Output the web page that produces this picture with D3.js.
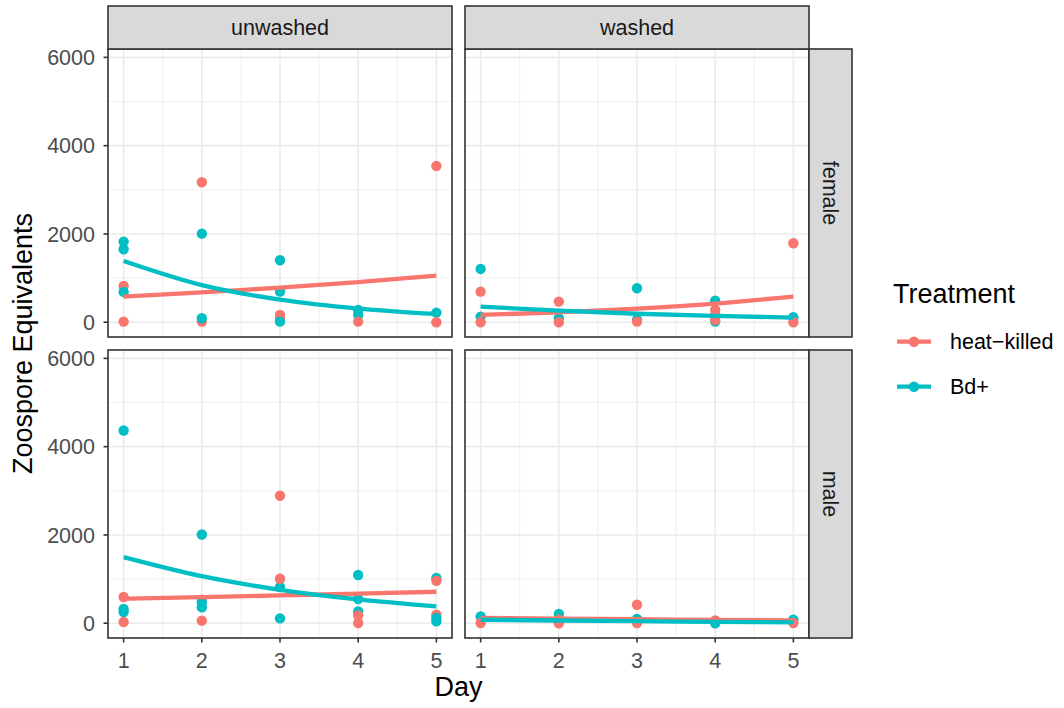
<!DOCTYPE html>
<html>
<head>
<meta charset="utf-8">
<script src="https://cdn.jsdelivr.net/npm/d3@7"></script>
<style>
  html, body { margin: 0; padding: 0; background: #fff; }
  svg { display: block; font-family: "Liberation Sans", Arial, Helvetica, sans-serif; }
</style>
</head>
<body>
<svg id="chart" width="1064" height="708"></svg>
<script>
// Facet levels and legend labels
const washLevels = ["unwashed", "washed"];
const sexLevels = ["female", "male"];
const treatments = ["heat\u2212killed", "Bd+"];
const treatmentColors = ["#F8766D", "#00BFC4"];
const dayTicks = [1, 2, 3, 4, 5];
const yTicks = [0, 2000, 4000, 6000];

// Observations: [day, zoospore equivalents, treatment index]
const ptsUnwashedFemale = [
  [1, 14, 0], [1, 822, 0], [1, 1826, 1], [1, 1653, 1], [1, 686, 1],
  [2, 3171, 0], [2, 14, 0], [2, 2007, 1], [2, 90, 1],
  [3, 165, 0], [3, 90, 0], [3, 1404, 1], [3, 693, 1], [3, 14, 1],
  [4, 279, 1], [4, 165, 1], [4, 14, 0],
  [5, 3540, 0], [5, 218, 1], [5, 0, 0]
];
const ptsWashedFemale = [
  [1, 1207, 1], [1, 693, 0], [1, 127, 1], [1, 0, 0],
  [2, 467, 0], [2, 90, 1], [2, 0, 0],
  [3, 770, 1], [3, 60, 1], [3, 14, 0],
  [4, 489, 1], [4, 14, 1], [4, 279, 0], [4, 165, 0], [4, 50, 0],
  [5, 1789, 0], [5, 113, 1], [5, 0, 0]
];
const ptsUnwashedMale = [
  [1, 4367, 1], [1, 593, 0], [1, 321, 1], [1, 254, 1], [1, 27, 0],
  [2, 2011, 1], [2, 532, 0], [2, 471, 1], [2, 358, 1], [2, 57, 0],
  [3, 2888, 0], [3, 820, 1], [3, 1008, 0], [3, 109, 1],
  [4, 1092, 1], [4, 548, 1], [4, 267, 1], [4, 177, 0], [4, 5, 0],
  [5, 1024, 1], [5, 962, 0], [5, 192, 0], [5, 117, 1], [5, 41, 1]
];
const ptsWashedMale = [
  [1, 154, 1], [1, 5, 0],
  [2, 208, 1], [2, 79, 0], [2, 0, 0],
  [3, 419, 0], [3, 95, 1], [3, 5, 0],
  [4, 63, 0], [4, 0, 1],
  [5, 79, 1], [5, 5, 0]
];

// Fitted trend per treatment, evaluated at days 1..5
const fitHeatUnwashedFemale = [580, 674, 783, 910, 1056];
const fitBdUnwashedFemale = [1388, 842, 511, 310, 188];
const fitHeatWashedFemale = [165, 225, 309, 423, 580];
const fitBdWashedFemale = [353, 261, 192, 142, 104];
const fitHeatUnwashedMale = [555, 591, 630, 670, 713];
const fitBdUnwashedMale = [1499, 1066, 757, 538, 381];
const fitHeatWashedMale = [118, 104, 90, 76, 63];
const fitBdWashedMale = [79, 62, 46, 31, 18];

const panels = [
  { wash: 0, sex: 0, pts: ptsUnwashedFemale, fits: [fitHeatUnwashedFemale, fitBdUnwashedFemale] },
  { wash: 1, sex: 0, pts: ptsWashedFemale, fits: [fitHeatWashedFemale, fitBdWashedFemale] },
  { wash: 0, sex: 1, pts: ptsUnwashedMale, fits: [fitHeatUnwashedMale, fitBdUnwashedMale] },
  { wash: 1, sex: 1, pts: ptsWashedMale, fits: [fitHeatWashedMale, fitBdWashedMale] }
];

// Layout
const panelW = 344, panelH = 288;
const colX = [108, 465];
const rowY = [49, 350];
const stripSize = 43;
const border = "#333333";
const gridCol = "#EBEBEB";

const svg = d3.select("#chart");

const x = d3.scaleLinear().domain([0.8, 5.2]).range([0, panelW]);
const y = d3.scaleLinear().domain([-335, 6190]).range([panelH, 0]);

const xMinor = [1.5, 2.5, 3.5, 4.5];
const yMinor = [1000, 3000, 5000];

panels.forEach(p => {
  const g = svg.append("g")
    .attr("transform", `translate(${colX[p.wash]},${rowY[p.sex]})`);

  // panel background and grid
  g.append("rect").attr("width", panelW).attr("height", panelH).attr("fill", "#fff");
  g.selectAll(".ymin").data(yMinor).join("line")
    .attr("x1", 0).attr("x2", panelW)
    .attr("y1", d => y(d)).attr("y2", d => y(d))
    .attr("stroke", gridCol).attr("stroke-width", 0.8);
  g.selectAll(".xmin").data(xMinor).join("line")
    .attr("y1", 0).attr("y2", panelH)
    .attr("x1", d => x(d)).attr("x2", d => x(d))
    .attr("stroke", gridCol).attr("stroke-width", 0.8);
  g.selectAll(".ymaj").data(yTicks).join("line")
    .attr("x1", 0).attr("x2", panelW)
    .attr("y1", d => y(d)).attr("y2", d => y(d))
    .attr("stroke", gridCol).attr("stroke-width", 1.6);
  g.selectAll(".xmaj").data(dayTicks).join("line")
    .attr("y1", 0).attr("y2", panelH)
    .attr("x1", d => x(d)).attr("x2", d => x(d))
    .attr("stroke", gridCol).attr("stroke-width", 1.6);

  // observations
  g.selectAll("circle.pt").data(p.pts).join("circle")
    .attr("class", "pt")
    .attr("cx", d => x(d[0])).attr("cy", d => y(d[1]))
    .attr("r", 5.2)
    .attr("fill", d => treatmentColors[d[2]]);

  // fitted trends
  const line = d3.line().x((d, i) => x(dayTicks[i])).y(d => y(d)).curve(d3.curveMonotoneX);
  p.fits.forEach((f, ti) => {
    g.append("path").datum(f)
      .attr("d", line)
      .attr("fill", "none")
      .attr("stroke", treatmentColors[ti])
      .attr("stroke-width", 4.3)
      .attr("stroke-linecap", "butt");
  });

  // panel border
  g.append("rect").attr("x", 0).attr("y", 0).attr("width", panelW).attr("height", panelH)
    .attr("fill", "none").attr("stroke", border).attr("stroke-width", 1.6);

  // left axis
  if (p.wash === 0) {
    const ax = g.append("g");
    ax.selectAll("line").data(yTicks).join("line")
      .attr("x1", -4.5).attr("x2", 0)
      .attr("y1", d => y(d)).attr("y2", d => y(d))
      .attr("stroke", border).attr("stroke-width", 1.6);
    ax.selectAll("text").data(yTicks).join("text")
      .attr("x", -13).attr("y", d => y(d)).attr("dy", "0.36em")
      .attr("text-anchor", "end").attr("fill", "#4D4D4D")
      .attr("font-size", 21.5)
      .text(d => d);
  }
  // bottom axis
  if (p.sex === 1) {
    const ax = g.append("g");
    ax.selectAll("line").data(dayTicks).join("line")
      .attr("y1", panelH).attr("y2", panelH + 4.5)
      .attr("x1", d => x(d)).attr("x2", d => x(d))
      .attr("stroke", border).attr("stroke-width", 1.6);
    ax.selectAll("text").data(dayTicks).join("text")
      .attr("y", panelH + 30).attr("x", d => x(d))
      .attr("text-anchor", "middle").attr("fill", "#4D4D4D")
      .attr("font-size", 21.5)
      .text(d => d);
  }
});

// column strips
washLevels.forEach((w, i) => {
  const g = svg.append("g").attr("transform", `translate(${colX[i]},${rowY[0] - stripSize})`);
  g.append("rect").attr("width", panelW).attr("height", stripSize)
    .attr("fill", "#D9D9D9").attr("stroke", border).attr("stroke-width", 1.6);
  g.append("text").attr("x", panelW / 2).attr("y", stripSize / 2).attr("dy", "0.36em")
    .attr("text-anchor", "middle").attr("fill", "#1A1A1A").attr("font-size", 21.5)
    .text(w);
});

// row strips
sexLevels.forEach((s, i) => {
  const g = svg.append("g").attr("transform", `translate(${colX[1] + panelW},${rowY[i]})`);
  g.append("rect").attr("width", stripSize).attr("height", panelH)
    .attr("fill", "#D9D9D9").attr("stroke", border).attr("stroke-width", 1.6);
  g.append("text")
    .attr("transform", `translate(${stripSize / 2},${panelH / 2}) rotate(90)`)
    .attr("dy", "0.36em")
    .attr("text-anchor", "middle").attr("fill", "#1A1A1A").attr("font-size", 21.5)
    .text(s);
});

// axis titles
svg.append("text")
  .attr("transform", `translate(32,${(rowY[0] + rowY[1] + panelH) / 2}) rotate(-90)`)
  .attr("text-anchor", "middle").attr("fill", "#000").attr("font-size", 27)
  .text("Zoospore Equivalents");
svg.append("text")
  .attr("x", (colX[0] + colX[1] + panelW) / 2).attr("y", 696)
  .attr("text-anchor", "middle").attr("fill", "#000").attr("font-size", 27)
  .text("Day");

// legend
const leg = svg.append("g").attr("transform", "translate(893,0)");
leg.append("text").attr("x", 0).attr("y", 303).attr("font-size", 27).attr("fill", "#000")
  .text("Treatment");
treatments.forEach((t, i) => {
  const cy = 341.7 + i * 45;
  leg.append("line").attr("x1", 4).attr("x2", 38).attr("y1", cy).attr("y2", cy)
    .attr("stroke", treatmentColors[i]).attr("stroke-width", 4.3);
  leg.append("circle").attr("cx", 21).attr("cy", cy).attr("r", 5.2)
    .attr("fill", treatmentColors[i]);
  leg.append("text").attr("x", 57).attr("y", cy).attr("dy", "0.36em")
    .attr("font-size", 21.5).attr("fill", "#000").text(t);
});
</script>
</body>
</html>
